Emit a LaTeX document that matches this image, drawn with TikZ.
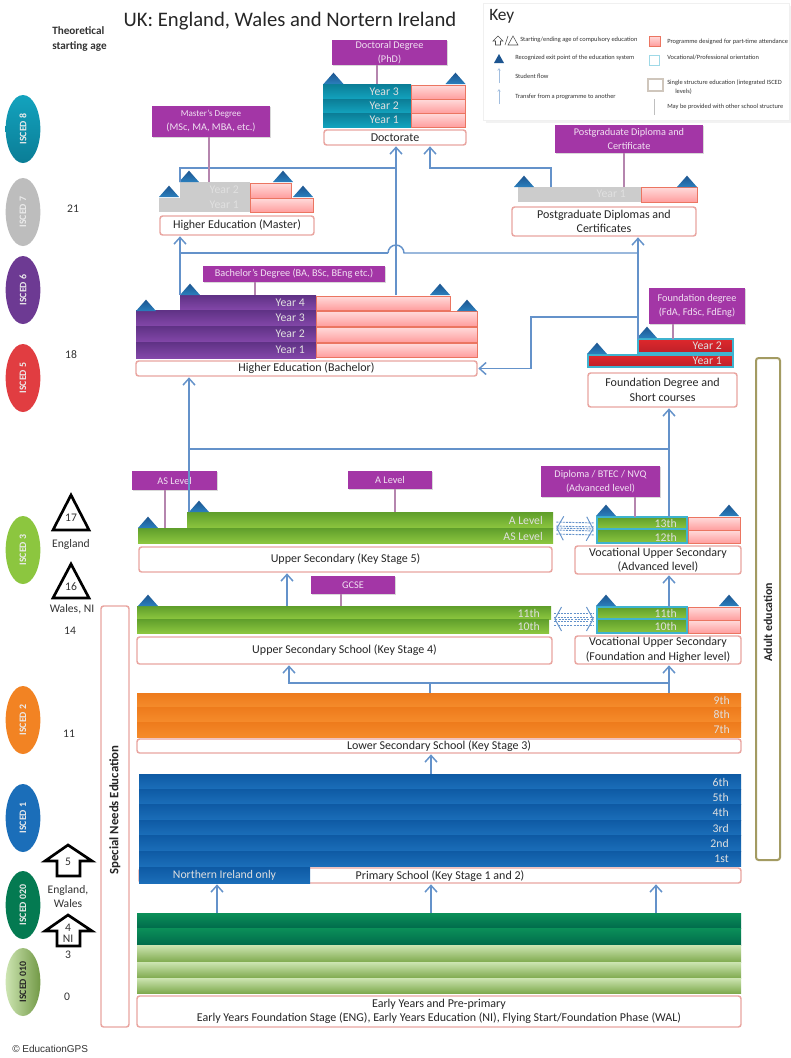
\documentclass[tikz,border=0pt]{standalone}
\usepackage{fontspec}
\setmainfont{Carlito}
\newfontfamily\gpsfont{Liberation Sans}
\usetikzlibrary{fit,shapes.geometric,arrows.meta,shadows}

\definecolor{flowblue}{HTML}{6492CA}
\definecolor{boxpink}{HTML}{E9A5A0}
\definecolor{tagpurple}{HTML}{A336A6}
\definecolor{tagline}{HTML}{B585AE}
\definecolor{rowcyan}{HTML}{3FB3CF}
\definecolor{adultolive}{HTML}{A39B62}
\definecolor{tealtop}{HTML}{0B7D96}
\definecolor{tealbot}{HTML}{13A3BE}
\definecolor{purptop}{HTML}{5F3285}
\definecolor{purpbot}{HTML}{8347A9}
\definecolor{redtop}{HTML}{DE282C}
\definecolor{redbot}{HTML}{BE2029}
\definecolor{greentop}{HTML}{5F9E2B}
\definecolor{greenbot}{HTML}{8CC63F}
\definecolor{orangetop}{HTML}{EE7B1C}
\definecolor{orangebot}{HTML}{F58B2B}
\definecolor{bluetop}{HTML}{0E5AA4}
\definecolor{bluebot}{HTML}{1B6EB9}
\definecolor{darktop}{HTML}{0B9059}
\definecolor{darkbot}{HTML}{006B4B}
\definecolor{lighttop}{HTML}{CDE5B2}
\definecolor{lightbot}{HTML}{7FAA4E}
\definecolor{exittop}{HTML}{1D5590}
\definecolor{exitbot}{HTML}{2A7FBD}

\tikzset{
  slab/.style={inner sep=0pt, outer sep=0pt},
  textbox/.style={slab, draw=boxpink, line width=1.1pt, rounded corners=2pt, fill=white},
  textboxlabel/.style={inner sep=0pt, align=center, font=\fontsize{9}{11}\selectfont, text=black!85},
  tagbox/.style={slab, fill=tagpurple, drop shadow={opacity=.3, shadow xshift=.6pt, shadow yshift=-.8pt}},
  tagboxlabel/.style={inner sep=0pt, align=center, text=white!85!tagpurple, font=\fontsize{7.7}{10.5}\selectfont},
  partrow/.style={slab, draw=red!55!brown!70, line width=.7pt, top color=red!14!white, bottom color=red!38!white},
  tealrow/.style={slab, top color=tealtop, bottom color=tealbot},
  greyrow/.style={slab, fill=black!20},
  purplerow/.style={slab, top color=purptop, bottom color=purpbot},
  redrow/.style={slab, draw=rowcyan, line width=1pt, top color=redtop, bottom color=redbot},
  greenrow/.style={slab, top color=greentop, bottom color=greenbot},
  vocrow/.style={greenrow, draw=rowcyan, line width=1pt},
  orangerow/.style={slab, top color=orangetop, bottom color=orangebot},
  bluerow/.style={slab, top color=bluetop, bottom color=bluebot},
  darkrow/.style={slab, top color=darktop, bottom color=darkbot},
  lightrow/.style={slab, top color=lighttop, bottom color=lightbot},
  rowtext/.style={anchor=east, inner sep=0pt, text=white!88!black, font=\fontsize{8.8}{10}\selectfont},
  isced/.style={ellipse, rotate=90, inner sep=0pt, minimum width=51pt, minimum height=26pt, text=white!92!black, font=\bfseries\fontsize{7.4}{9}\selectfont},
  agetext/.style={inner sep=0pt, align=center, text=black!80, font=\fontsize{8.7}{10}\selectfont},
  keytext/.style={anchor=west, inner sep=0pt, align=left, text=black!80, font=\fontsize{4.8}{6.5}\selectfont},
  sidetext/.style={rotate=90, inner sep=0pt, text=black!85, font=\bfseries\fontsize{8.9}{10}\selectfont},
  flowline/.style={draw=flowblue, line width=1.1pt},
  flow/.style={flowline, -{Straight Barb[length=5pt,width=9pt]}, shorten >=1pt},
  stemline/.style={draw=tagline, line width=1pt},
  exitmark/.style={top color=exittop, bottom color=exitbot, line join=round},
  agemark/.style={draw=black, fill=white, line width=2pt, line join=miter},
  xfer/.style={draw=flowblue, line width=.7pt, dash pattern=on 1.6pt off .8pt, shorten >=2.5pt, shorten <=2.5pt},
  xfertip/.style={xfer, {Straight Barb[length=5pt,width=18pt]}-{Straight Barb[length=5pt,width=18pt]}},
}
\newcommand{\Slab}[4]{\node[#1, fit={(#3) (#4)}] (#2) {};}
\newcommand{\Tagged}[5]{\node[#1, fit={(#3) (#4)}] (#2) {};
\node[#1label] (#2text) at (#2.center) {#5};}
\newcommand{\Exit}[2]{\path[exitmark] ([xshift=-7.5pt]#1,#2) -- ([yshift=8.5pt]#1,#2) -- ([xshift=7.5pt]#1,#2) -- cycle;}

\begin{document}
\begin{tikzpicture}[x=0.75pt,y=-0.75pt]
\path[use as bounding box, fill=white] (0,0) rectangle (790,1058);

\node[inner sep=0pt, text=black!85, font=\fontsize{15.5}{18}\selectfont] (title) at (290,21) {UK: England, Wales and Nortern Ireland};
\node[anchor=west, inner sep=0pt, align=left, text=black!80, font=\bfseries\fontsize{8.4}{11}\selectfont] (startage) at (52,39) {Theoretical\\starting age};

\Slab{slab, fill=white, draw=black!6, drop shadow={opacity=.1}}{keypanel}{483,3}{789,120}
\node[anchor=west, inner sep=0pt, text=black!85, font=\fontsize{13}{15}\selectfont] (keytitle) at (489,16) {Key};
\draw[black!70, line width=.4pt] (493,41) -- (498,36) -- (503,41) -- (500.5,41) -- (500.5,45) -- (495.5,45) -- (495.5,41) -- cycle;
\draw[black!70, line width=.4pt] (505,45) -- (508,36);
\draw[black!70, line width=.4pt] (508,45) -- (513,36) -- (518,45) -- cycle;
\node[keytext] (keystart) at (520,40) {Starting/ending age of compulsory education};
\path[fill=exittop] (494,63) -- (499,54) -- (504,63) -- cycle;
\node[keytext] (keyexit) at (515,58) {Recognized exit point of the education system};
\coordinate (keyflowa) at (499,83);
\coordinate (keyflowb) at (499,68);
\draw[draw=flowblue!60, line width=.5pt, -{Straight Barb[length=1.5pt,width=2pt]}] (keyflowa) -- (keyflowb);
\node[keytext] (keyflow) at (515,76) {Student flow};
\coordinate (keyxfera) at (499,104);
\coordinate (keyxferb) at (499,89);
\draw[draw=flowblue!60, line width=.5pt, -{Straight Barb[length=1.5pt,width=2pt]}] (keyxfera) -- (keyxferb);
\node[keytext] (keyxfer) at (515,97) {Transfer from a programme to another};
\Slab{partrow, line width=.3pt}{keypart}{649,36}{660,46}
\node[keytext] (keyparttext) at (667,42) {Programme designed for part-time attendance};
\Slab{slab, draw=rowcyan!50, line width=.6pt}{keyvoc}{649,55}{659,65}
\node[keytext] (keyvoctext) at (667,57) {Vocational/Professional orientation};
\Slab{slab, draw=brown!50!black!30, line width=1.3pt}{keysingle}{648,79}{663,91}
\node[keytext] (keysingletext) at (667,87) {Single structure education (integrated ISCED\\\hspace*{6pt}levels)};
\coordinate (keystema) at (654,99);
\coordinate (keystemb) at (654,115);
\draw[black!25, line width=.4pt] (keystema) -- (keystemb);
\node[keytext] (keystemtext) at (667,107) {May be provided with other school structure};

\node[isced, top color=tealbot, bottom color=tealtop] (isced8) at (23,129) {ISCED 8};
\node[isced, fill=black!26] (isced7) at (23,212) {ISCED 7};
\node[isced, fill=purptop!60!purpbot] (isced6) at (23,290) {ISCED 6};
\node[isced, fill=redtop!90!white] (isced5) at (23,378) {ISCED 5};
\node[isced, fill=greenbot] (isced3) at (23,550) {ISCED 3};
\node[isced, fill=orangetop!50!orangebot] (isced2) at (23,720) {ISCED 2};
\node[isced, fill=bluebot] (isced1) at (23,818) {ISCED 1};
\node[isced, fill=darktop!40!darkbot] (isced020) at (23,905) {ISCED 020};
\node[isced, left color=lighttop, right color=lightbot!90!black, text=black!85] (isced010) at (23,982) {ISCED 010};

\node[agetext] (age21) at (73,209) {21};
\node[agetext] (age18) at (71,355) {18};
\node[agetext] (age14) at (70,631) {14};
\node[agetext] (age11) at (69,734) {11};
\node[agetext] (age3) at (68,955) {3};
\node[agetext] (age0) at (67,997) {0};

\draw[agemark] (53,530) -- (71,495) -- (89,530) -- cycle;
\node[agetext] (end17) at (71,518) {17};
\node[agetext] (england) at (71,544) {England};
\draw[agemark] (53,598) -- (71,564) -- (89,598) -- cycle;
\node[agetext] (end16) at (71,587) {16};
\node[agetext] (walesni) at (72,609) {Wales, NI};
\draw[agemark] (45,861) -- (68,845) -- (92,861) -- (80,861) -- (80,876) -- (57,876) -- (57,861) -- cycle;
\node[agetext] (start5) at (68,862) {5};
\node[agetext] (startew) at (68,896.5) {England,\\Wales};
\draw[agemark] (45,931) -- (68,915) -- (92,931) -- (80,931) -- (80,946) -- (57,946) -- (57,931) -- cycle;
\node[agetext, font=\fontsize{8.7}{8.5}\selectfont] (start4) at (68,933.5) {4\\NI};

\Slab{textbox}{special}{101,606}{129,1027}
\node[sidetext, font=\bfseries\fontsize{9.6}{11}\selectfont] (specialtext) at (115,810) {Special Needs Education};
\Slab{slab, draw=adultolive, line width=1.5pt, rounded corners=2pt}{adult}{756,358}{780,860}
\node[sidetext] (adulttext) at (768,622) {Adult education};

\coordinate (x165) at (165,0);
\coordinate (x180) at (180,0);
\coordinate (x189) at (189,0);
\coordinate (x209) at (209,0);
\coordinate (x217) at (217,0);
\coordinate (x255) at (255,0);
\coordinate (x287) at (287,0);
\coordinate (x289) at (289,0);
\coordinate (x341) at (341,0);
\coordinate (x377) at (377,0);
\coordinate (x395) at (395,0);
\coordinate (x396) at (396,0);
\coordinate (x430) at (430,0);
\coordinate (x431) at (431,0);
\coordinate (x551) at (551,0);
\coordinate (x624) at (624,0);
\coordinate (x635) at (635,0);
\coordinate (x638) at (638,0);
\coordinate (x656) at (656,0);
\coordinate (x669) at (669,0);
\coordinate (x673) at (673,0);
\coordinate (jd) at (430,168);
\coordinate (jh) at (0,253);
\coordinate (hl) at (388,253);
\coordinate (jf) at (531,317);
\coordinate (jm) at (0,449);
\coordinate (jl) at (0,683);

\Tagged{tagbox}{phdtag}{332,40}{447,65}{Doctoral Degree\\(PhD)}
\Tagged{tagbox}{masttag}{152,106}{270,137}{\fontsize{6.8}{10.5}\selectfont Master's Degree\\(MSc, MA, MBA, etc.)}
\Tagged{tagbox}{posttag}{555,125}{703,153}{Postgraduate Diploma and\\Certificate}
\Tagged{tagbox}{bachtag}{203,266}{385,282}{Bachelor's Degree (BA, BSc, BEng etc.)}
\Tagged{tagbox}{foundtag}{649,288}{745,324}{Foundation degree\\(FdA, FdSc, FdEng)}
\Tagged{tagbox}{astag}{132,471}{217,490}{AS Level}
\Tagged{tagbox}{atag}{348,471}{432,489}{A Level}
\Tagged{tagbox}{diptag}{541,466}{660,497}{Diploma  / BTEC / NVQ\\(Advanced level)}
\Tagged{tagbox}{gcsetag}{311,576}{395,594}{GCSE}

\Slab{tealrow}{doc3}{323,84}{411,99}
\Slab{tealrow}{doc2}{323,99}{411,113}
\Slab{tealrow}{doc1}{323,113}{411,127}
\Slab{partrow}{doc3p}{411,85}{465,99}
\Slab{partrow}{doc2p}{411,99}{465,113}
\Slab{partrow}{doc1p}{411,113}{465,127}
\node[rowtext] (ldoc3) at (399,92) {Year 3};
\node[rowtext] (ldoc2) at (399,106) {Year 2};
\node[rowtext] (ldoc1) at (399,120) {Year 1};
\Tagged{textbox}{docbox}{324,130}{466,145}{Doctorate}
\Exit{333.5}{84}
\Exit{455.5}{84}

\Slab{greyrow}{mast2}{180,182}{250,198}
\Slab{greyrow}{mast1}{159,198}{250,212}
\Slab{partrow}{mast2p}{250,183}{291,198}
\Slab{partrow}{mast1p}{250,198}{313,212}
\node[rowtext] (lmast2) at (239,190) {Year 2};
\node[rowtext] (lmast1) at (239,205) {Year 1};
\Tagged{textbox}{mastbox}{160,216}{314,235}{Higher Education (Master)}
\Exit{169}{197}
\Exit{189}{182}
\Exit{283}{182}
\Exit{303}{197}

\Slab{greyrow}{post1}{518,187}{641,202}
\Slab{partrow}{post1p}{641,187}{697,202}
\node[rowtext] (lpost1) at (626,194) {Year 1};
\Tagged{textbox}{postbox}{512,207}{696,236}{Postgraduate Diplomas and\\Certificates}
\Exit{524}{187}
\Exit{687}{187}

\Slab{purplerow}{bach4row}{180,295}{316,310}
\Slab{purplerow}{bach3}{136,310}{316,326}
\Slab{purplerow}{bach2}{136,326}{316,342}
\Slab{purplerow}{bach1}{136,342}{316,358}
\Slab{partrow}{bach4p}{316,296}{450,310}
\Slab{partrow}{bach3p}{316,311}{477,326}
\Slab{partrow}{bach2p}{316,327}{477,342}
\Slab{partrow}{bach1p}{316,343}{477,357}
\node[rowtext] (lbach4) at (305,303) {Year 4};
\node[rowtext] (lbach3) at (305,318) {Year 3};
\node[rowtext] (lbach2) at (305,334) {Year 2};
\node[rowtext] (lbach1) at (305,350) {Year 1};
\Tagged{textbox}{bachbox}{136,361}{477,376}{Higher Education (Bachelor)}
\Exit{146}{311}
\Exit{190}{295}
\Exit{440}{295}
\Exit{467}{311}

\Slab{redrow}{found2}{638,339}{733,353}
\Slab{redrow}{found1}{588,355}{733,367}
\node[rowtext] (lfound2) at (722,346) {Year 2};
\node[rowtext] (lfound1) at (722,361) {Year 1};
\Tagged{textbox}{foundbox}{588,373}{737,407}{Foundation Degree and\\Short courses}
\Exit{597}{354}
\Exit{647}{338}

\Slab{greenrow}{alevel}{187,512}{553,528}
\Slab{greenrow}{aslevel}{138,528}{553,543}
\node[rowtext] (lalevel) at (543,520) {A Level};
\node[rowtext] (laslevel) at (543,536) {AS Level};
\Tagged{textbox}{ksfive}{139,547}{552,572}{Upper Secondary (Key Stage 5)}
\Exit{148}{528}
\Exit{199}{512}

\Slab{vocrow}{voca13}{597,517}{687,529}
\Slab{vocrow}{voca12}{597,529}{687,543}
\Slab{partrow}{voca13p}{688,517}{740,530}
\Slab{partrow}{voca12p}{688,530}{740,543}
\node[rowtext] (lvoca13) at (677,523) {13th};
\node[rowtext] (lvoca12) at (677,537) {12th};
\Tagged{textbox}{vocabox}{575,546}{741,574}{Vocational Upper Secondary\\(Advanced level)}
\Exit{606}{516}
\Exit{729}{516}

\Slab{greenrow}{up11}{137,606}{551,619}
\Slab{greenrow}{up10}{137,619}{549,633}
\node[rowtext] (lup11) at (540,613) {11th};
\node[rowtext] (lup10) at (540,626) {10th};
\Tagged{textbox}{ksfour}{137,637}{552,664}{Upper Secondary School (Key Stage 4)}
\Exit{148}{606}

\Slab{vocrow}{vocb11}{597,607}{687,619}
\Slab{vocrow}{vocb10}{597,619}{687,633}
\Slab{partrow}{vocb11p}{688,607}{740,620}
\Slab{partrow}{vocb10p}{688,620}{740,633}
\node[rowtext] (lvocb11) at (677,613) {11th};
\node[rowtext] (lvocb10) at (677,626) {10th};
\Tagged{textbox}{vocbbox}{575,636}{741,664}{Vocational Upper Secondary\\(Foundation and Higher level)}
\Exit{606}{606}
\Exit{729}{606}

\Slab{orangerow}{low9}{137,693}{741,707}
\Slab{orangerow}{low8}{137,707}{741,722}
\Slab{orangerow}{low7}{137,722}{741,737}
\node[rowtext] (llow9) at (730,700) {9th};
\node[rowtext] (llow8) at (730,714) {8th};
\node[rowtext] (llow7) at (730,729) {7th};
\Tagged{textbox}{lowbox}{137,739}{741,753}{Lower Secondary School (Key Stage 3)}

\Slab{bluerow}{prim6}{139,774}{741,789}
\Slab{bluerow}{prim5}{139,789}{741,804}
\Slab{bluerow}{prim4}{139,804}{741,820}
\Slab{bluerow}{prim3}{139,820}{741,835}
\Slab{bluerow}{prim2}{139,835}{741,851}
\Slab{bluerow}{prim1}{139,851}{741,866}
\node[rowtext] (lprim6) at (729,782) {6th};
\node[rowtext] (lprim5) at (729,797) {5th};
\node[rowtext] (lprim4) at (729,812) {4th};
\node[rowtext] (lprim3) at (729,828) {3rd};
\node[rowtext] (lprim2) at (729,843) {2nd};
\node[rowtext] (lprim1) at (729,859) {1st};
\Slab{textbox}{primbox}{139,868}{741,883}
\node[textboxlabel] (primtext) at (440,876) {Primary School (Key Stage 1 and 2)};
\Slab{bluerow}{nionly}{139,867}{310,883}
\node[rowtext, anchor=center] (nitext) at (nionly.center) {Northern Ireland only};

\Slab{darkrow}{early5}{137,913}{741,928}
\Slab{darkrow}{early4}{137,928}{741,945}
\Slab{lightrow}{early3}{137,945}{741,962}
\Slab{lightrow}{early2}{137,962}{741,978}
\Slab{lightrow}{early1}{137,978}{741,993}
\Tagged{textbox}{earlybox}{137,996}{741,1027}{Early Years and Pre-primary\\Early Years Foundation Stage (ENG), Early Years Education (NI), Flying Start/Foundation Phase (WAL)}

\node[anchor=west, inner sep=0pt, text=black!80, font=\gpsfont\fontsize{7.5}{9}\selectfont] (copyright) at (12,1049) {© EducationGPS};

\draw[flowline] (hl) arc (180:360:8) -- (x638 |- jh);
\draw[flowline] (x180 |- jh) -- (hl);
\draw[flowline] (x189 |- jm) -- (x669 |- jm);
\draw[flow] (bach4row.north -| x180) -- (mastbox.south -| x180);
\draw[flow] (early5.north -| x217) -- (primbox.south -| x217);
\draw[flow] (early5.north -| x431) -- (primbox.south -| x431);
\draw[flow] (early5.north -| x656) -- (primbox.south -| x656);
\draw[flow] (prim6.north -| x431) -- (lowbox.south -| x431);
\draw[flowline] (low9.north -| x430) -- (x430 |- jl);
\draw[flow] (low9.north -| x669) -- (vocbbox.south -| x669);
\draw[flow] (x669 |- jl) -| (ksfour.south -| x289);
\draw[flow] (up11.north -| x287) -- (ksfive.south -| x287);
\draw[flow] (vocb11.north -| x669) -- (vocabox.south -| x669);
\draw[flow] (voca13.north -| x669) -- (foundbox.south -| x669);
\draw[flow] (alevel.north -| x189) -- (bachbox.south -| x189);
\draw[flow] (found2.north -| x638) -- (postbox.south -| x638);
\draw[flow] (x638 |- jf) -- (jf) |- (bachbox.east);
\draw[flow] (bach4row.north -| x396) -- (docbox.south -| x396);
\draw[flowline] (mast2.north -| x180) |- (x396 |- jd);
\draw[flow] (post1.north -| x551) |- (jd) -- (docbox.south -| x430);

\draw[stemline] (phdtag.south -| x377) -- (doc3.north -| x377);
\draw[stemline] (masttag.south -| x209) -- (mast2.north -| x209);
\draw[stemline] (posttag.south -| x624) -- (post1.north -| x624);
\draw[stemline] (bachtag.south -| x255) -- (bach4row.north -| x255);
\draw[stemline] (foundtag.south -| x673) -- (found2.north -| x673);
\draw[stemline] (astag.south -| x165) -- (aslevel.north -| x165);
\draw[stemline] (atag.south -| x395) -- (alevel.north -| x395);
\draw[stemline] (diptag.south -| x635) -- (voca13.north -| x635);
\draw[stemline] (gcsetag.south -| x341) -- (up11.north -| x341);

\draw[xfertip] (alevel.south east) -- (voca13.south west);
\draw[xfer] ([yshift=4.5pt]alevel.south east) -- ([yshift=4.5pt]voca13.south west);
\draw[xfer] ([yshift=1.5pt]alevel.south east) -- ([yshift=1.5pt]voca13.south west);
\draw[xfer] ([yshift=-1.5pt]alevel.south east) -- ([yshift=-1.5pt]voca13.south west);
\draw[xfer] ([yshift=-4.5pt]alevel.south east) -- ([yshift=-4.5pt]voca13.south west);
\draw[xfertip] (up11.south east) -- (vocb11.south west);
\draw[xfer] ([yshift=4.5pt]up11.south east) -- ([yshift=4.5pt]vocb11.south west);
\draw[xfer] ([yshift=1.5pt]up11.south east) -- ([yshift=1.5pt]vocb11.south west);
\draw[xfer] ([yshift=-1.5pt]up11.south east) -- ([yshift=-1.5pt]vocb11.south west);
\draw[xfer] ([yshift=-4.5pt]up11.south east) -- ([yshift=-4.5pt]vocb11.south west);
\end{tikzpicture}
\end{document}
